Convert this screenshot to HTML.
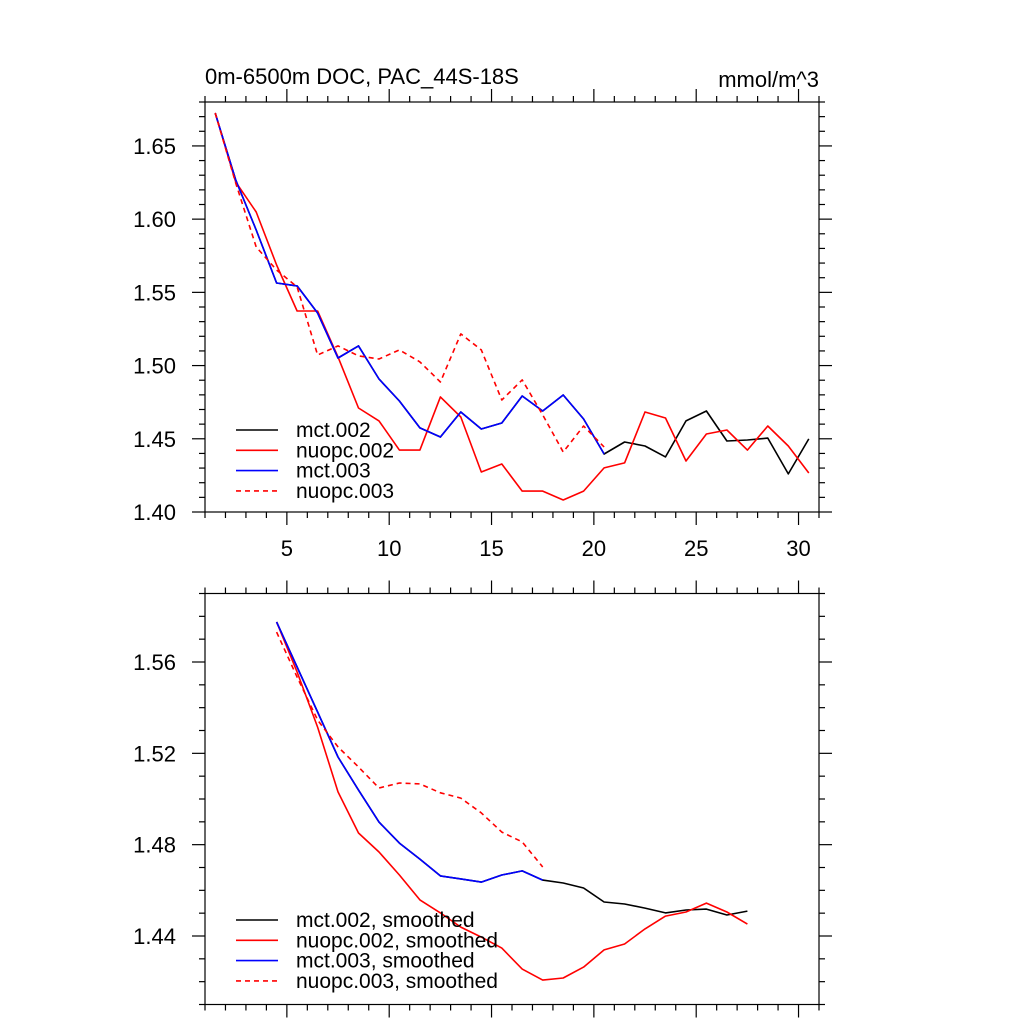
<!DOCTYPE html>
<html><head><meta charset="utf-8"><style>
html,body{margin:0;padding:0;background:#fff;}
svg{display:block;font-family:"Liberation Sans",Arial,sans-serif;}
</style></head><body>
<svg id="chart" width="1024" height="1024" viewBox="0 0 1024 1024"></svg>
<script>
// ---- data ----
const xStartTop = 1.5;
const mct002 = [1.6725,1.6268,1.5926,1.5564,1.5544,1.5359,1.5052,1.5134,1.4908,1.4758,1.4574,1.4512,1.4683,1.4567,1.4608,1.4792,1.4690,1.4799,1.4635,1.4396,1.4478,1.4451,1.4376,1.4622,1.4690,1.4485,1.4492,1.4505,1.4260,1.4499];
const nuopc002 = [1.6725,1.6254,1.6049,1.5687,1.5373,1.5373,1.5059,1.4710,1.4622,1.4423,1.4423,1.4786,1.4649,1.4273,1.4328,1.4143,1.4143,1.4082,1.4143,1.4301,1.4335,1.4683,1.4642,1.4348,1.4533,1.4560,1.4423,1.4587,1.4451,1.4266];
const mct003 = [1.6725,1.6268,1.5926,1.5564,1.5544,1.5359,1.5052,1.5134,1.4908,1.4758,1.4574,1.4512,1.4683,1.4567,1.4608,1.4792,1.4690,1.4799,1.4635,1.4396];
const nuopc003 = [1.6725,1.6247,1.5810,1.5653,1.5537,1.5072,1.5134,1.5066,1.5045,1.5107,1.5025,1.4888,1.5216,1.5107,1.4765,1.4902,1.4663,1.4410,1.4587,1.4444];
const xStartBot = 4.5;
const mct002s = [1.5775,1.5578,1.5381,1.5184,1.5039,1.4899,1.4807,1.4737,1.4663,1.4650,1.4636,1.4667,1.4685,1.4645,1.4632,1.4610,1.4549,1.4540,1.4522,1.4501,1.4514,1.4518,1.4492,1.4509];
const nuopc002s = [1.5775,1.5556,1.5315,1.5031,1.4851,1.4768,1.4667,1.4558,1.4501,1.4439,1.4395,1.4347,1.4255,1.4207,1.4216,1.4264,1.4339,1.4365,1.4431,1.4487,1.4505,1.4544,1.4505,1.4452];
const mct003s = [1.5775,1.5578,1.5381,1.5184,1.5039,1.4899,1.4807,1.4737,1.4663,1.4650,1.4636,1.4667,1.4685,1.4645];
const nuopc003s = [1.5731,1.5534,1.5346,1.5228,1.5140,1.5048,1.5070,1.5066,1.5027,1.5004,1.4939,1.4855,1.4812,1.4702];
const xTickLabels = [5,10,15,20,25,30];
const yTickTop = ["1.40","1.45","1.50","1.55","1.60","1.65"];
const yTickBot = ["1.44","1.48","1.52","1.56"];

const NS="http://www.w3.org/2000/svg";
const svgEl=document.getElementById('chart');
function mk(tag,attrs,parent){const e=document.createElementNS(NS,tag);for(const k in attrs)e.setAttribute(k,attrs[k]);(parent||svgEl).appendChild(e);return e;}

const L=205,R=819;
const xMin=1,xMax=31;
const sx=v=>L+(v-xMin)/(xMax-xMin)*(R-L);

function panel(name,T,B,yMin,yMax,yLabels,xLabels){
  const g=mk('g',{});
  
  
  const sy=v=>B-(v-yMin)/(yMax-yMin)*(B-T);
  const ax=mk('g',{stroke:'#000','stroke-width':1.2,fill:'none'},g);
  
  
  mk('rect',{x:L,y:T,width:R-L,height:B-T},ax);
  for(let v=xMin;v<=xMax;v++){
    const len=(v%5===0)?13:6;const x=sx(v);
    mk('line',{x1:x,y1:B,x2:x,y2:B+len},ax);
    mk('line',{x1:x,y1:T,x2:x,y2:T-len},ax);
  }
  const n=Math.round((yMax-yMin)/0.01);
  for(let i=0;i<=n;i++){
    const v=yMin+i*0.01;
    const maj=yLabels.includes(v.toFixed(2));
    const len=maj?13:6;const y=sy(v);
    mk('line',{x1:L,y1:y,x2:L-len,y2:y},ax);
    mk('line',{x1:R,y1:y,x2:R+len,y2:y},ax);
  }
  yLabels.forEach(s=>{
    const t=mk('text',{x:L-29,y:sy(parseFloat(s))+8,'text-anchor':'end','font-size':22},g);
    t.textContent=s;
    
    
  });
  if(xLabels) xLabels.forEach(v=>{
    const t=mk('text',{x:sx(v),y:B+44,'text-anchor':'middle','font-size':22},g);
    t.textContent=v;
    
    
  });
  return {g:g,sy:sy};
}
function series(p,name,data,x0,color,dash){
  const pts=data.map((v,i)=>sx(x0+i).toFixed(1)+','+p.sy(v).toFixed(1)).join(' ');
  const e=mk('polyline',{points:pts,fill:'none',stroke:color,'stroke-width':1.6,'stroke-linejoin':'round'},p.g);
  if(dash)e.setAttribute('stroke-dasharray','5,4');
  
  
}
function legend(p,name,items,y0){
  const g=mk('g',{},p.g);
  
  
  items.forEach((it,i)=>{
    const y=y0+i*20.3;
    const ln=mk('line',{x1:236,y1:y,x2:278,y2:y,stroke:it[1],'stroke-width':1.6},g);
    if(it[2])ln.setAttribute('stroke-dasharray','5,4');
    
    
    const t=mk('text',{x:296,y:y+7,'font-size':21},g);
    t.textContent=it[0];
    
    
  });
}

const topPanel=panel('top-panel',102,512,1.40,1.68,yTickTop,xTickLabels);
series(topPanel,'mct002-line',mct002,xStartTop,'#000',false);
series(topPanel,'nuopc002-line',nuopc002,xStartTop,'#f00',false);
series(topPanel,'mct003-line',mct003,xStartTop,'#00f',false);
series(topPanel,'nuopc003-line',nuopc003,xStartTop,'#f00',true);
legend(topPanel,'top-legend',[['mct.002','#000'],['nuopc.002','#f00'],['mct.003','#00f'],['nuopc.003','#f00',true]],430);

const botPanel=panel('bottom-panel',593.5,1004.5,1.41,1.59,yTickBot,null);
series(botPanel,'mct002-smoothed-line',mct002s,xStartBot,'#000',false);
series(botPanel,'nuopc002-smoothed-line',nuopc002s,xStartBot,'#f00',false);
series(botPanel,'mct003-smoothed-line',mct003s,xStartBot,'#00f',false);
series(botPanel,'nuopc003-smoothed-line',nuopc003s,xStartBot,'#f00',true);
legend(botPanel,'bottom-legend',[['mct.002, smoothed','#000'],['nuopc.002, smoothed','#f00'],['mct.003, smoothed','#00f'],['nuopc.003, smoothed','#f00',true]],920);

const t1=mk('text',{x:205,y:84,'font-size':22});
t1.textContent='0m-6500m DOC, PAC_44S-18S';


const t2=mk('text',{x:819,y:87,'font-size':22,'text-anchor':'end'});
t2.textContent='mmol/m^3';


</script>
</body></html>
